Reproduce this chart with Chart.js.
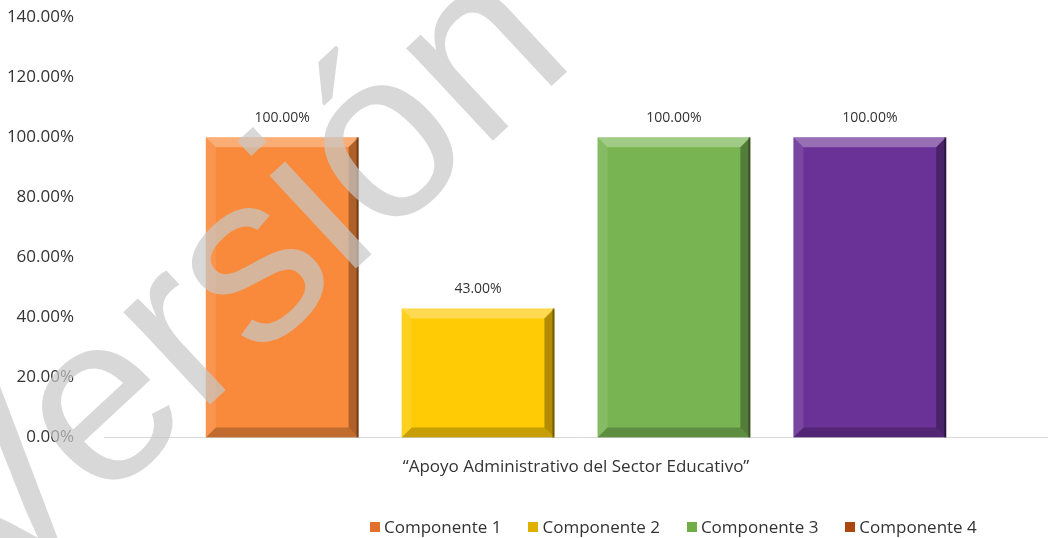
<!DOCTYPE html>
<html>
<head>
<meta charset="utf-8">
<script src="https://cdn.jsdelivr.net/npm/chart.js@4.4.0/dist/chart.umd.min.js"></script>
<style>
  html, body { margin: 0; padding: 0; background: #fff; }
  #wrap { position: relative; width: 1048px; height: 538px; }
  #legend {
    position: absolute; left: 370px; top: 515px;
    display: flex; gap: 27px;
    font-family: "Open Sans", sans-serif; font-size: 17px; color: #333;
  }
  #legend span.item { display: flex; align-items: center; }
  #legend i { display: inline-block; width: 10px; height: 10px; margin-right: 4px; }
</style>
</head>
<body>
<div id="wrap">
  <canvas id="chart" width="1048" height="538"></canvas>
  <div id="legend"></div>
</div>
<script>
// data
const categories = ["\u201cApoyo Administrativo del Sector Educativo\u201d"];
const seriesNames = ["Componente 1", "Componente 2", "Componente 3", "Componente 4"];
const componente1 = [100];
const componente2 = [43];
const componente3 = [100];
const componente4 = [100];
const yTicks = [0, 20, 40, 60, 80, 100, 120, 140];

const barColors = ["#F98A3B", "#FFCB05", "#78B552", "#6A3196"];
const legendColors = ["#E4712B", "#E0B000", "#70AD47", "#A9470F"];

// bevel look on each bar
const bevelPlugin = {
  id: "bevel",
  afterDatasetsDraw(chart) {
    const ctx = chart.ctx;
    chart.data.datasets.forEach((ds, i) => {
      chart.getDatasetMeta(i).data.forEach((bar) => {
        const l = bar.x - bar.width / 2, r = bar.x + bar.width / 2;
        const t = bar.y, b = bar.base;
        const d = 10;
        const poly = (pts, fill) => {
          ctx.beginPath();
          ctx.moveTo(pts[0][0], pts[0][1]);
          pts.slice(1).forEach((p) => ctx.lineTo(p[0], p[1]));
          ctx.closePath();
          ctx.fillStyle = fill;
          ctx.fill();
        };
        ctx.save();
        poly([[l, t], [r, t], [r - d, t + d], [l + d, t + d]], "rgba(255,255,255,0.30)");
        poly([[l, t], [l + d, t + d], [l + d, b - d], [l, b]], "rgba(255,255,255,0.10)");
        poly([[r, t], [r, b], [r - d, b - d], [r - d, t + d]], "rgba(0,0,0,0.30)");
        poly([[l, b], [r, b], [r - d, b - d], [l + d, b - d]], "rgba(0,0,0,0.22)");
        ctx.fillStyle = "rgba(0,0,0,0.35)";
        ctx.fillRect(r - 2, t, 2, b - t);
        ctx.restore();
      });
    });
  }
};

// value labels above bars + watermark
const labelPlugin = {
  id: "labels",
  afterDraw(chart) {
    const ctx = chart.ctx;
    ctx.save();
    ctx.font = "14px 'Open Sans'";
    ctx.fillStyle = "#333";
    ctx.textAlign = "center";
    ctx.textBaseline = "bottom";
    chart.data.datasets.forEach((ds, i) => {
      chart.getDatasetMeta(i).data.forEach((bar, j) => {
        ctx.fillText(ds.data[j].toFixed(2) + "%", bar.x, bar.y - 12);
      });
    });
    ctx.restore();

    ctx.save();
    ctx.translate(-7, 607);
    ctx.rotate(-43 * Math.PI / 180);
    ctx.font = "240px 'Liberation Sans'";
    ctx.fillStyle = "rgba(200,200,200,0.7)";
    ctx.textAlign = "left";
    ctx.textBaseline = "alphabetic";
    ctx.fillText("Versi\u00f3n", 0, 0);
    ctx.restore();
  }
};

const seriesData = [componente1, componente2, componente3, componente4];

new Chart(document.getElementById("chart"), {
  type: "bar",
  data: {
    labels: categories,
    datasets: seriesNames.map((name, i) => ({
      label: name,
      data: seriesData[i],
      backgroundColor: barColors[i],
      categoryPercentage: 0.83,
      barPercentage: 0.78
    }))
  },
  options: {
    responsive: false,
    animation: false,
    layout: { padding: { top: 17, bottom: 50, right: 0, left: 0 } },
    plugins: { legend: { display: false }, tooltip: { enabled: false } },
    scales: {
      x: {
        grid: { display: false },
        border: { display: true, color: "#d9d9d9", width: 1 },
        ticks: { padding: 11, color: "#333", font: { family: "Open Sans", size: 17 } }
      },
      y: {
        min: 0,
        max: 140,
        afterBuildTicks(axis) { axis.ticks = yTicks.map((v) => ({ value: v })); },
        afterFit(axis) {
          axis.width = 104;
          axis.paddingTop = 0;
          axis.paddingBottom = 0;
        },
        grid: { display: false },
        border: { display: false },
        ticks: {
          padding: 22,
          color: "#333",
          font: { family: "Open Sans", size: 17 },
          callback: (v) => v.toFixed(2) + "%"
        }
      }
    }
  },
  plugins: [bevelPlugin, labelPlugin]
});

const legend = document.getElementById("legend");
seriesNames.forEach((name, i) => {
  const item = document.createElement("span");
  item.className = "item";
  item.innerHTML = '<i style="background:' + legendColors[i] + '"></i>' + name;
  legend.appendChild(item);
});
</script>
</body>
</html>
